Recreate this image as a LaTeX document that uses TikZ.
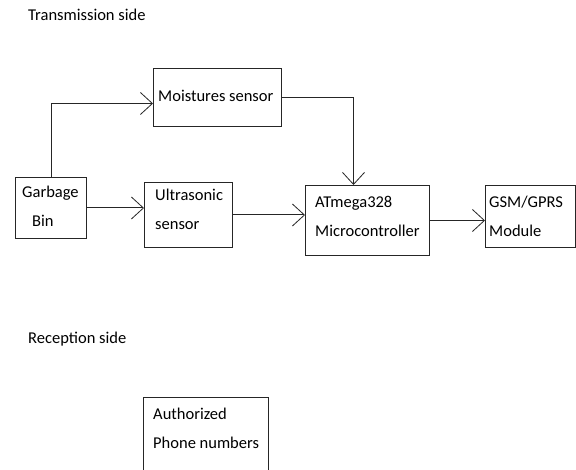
\documentclass[tikz,border=0pt]{standalone}
\usepackage{fontspec}
\setmainfont{Carlito}
\usetikzlibrary{arrows.meta}
\newcommand\txtlines[1]{\parbox[t]{140pt}{\raggedright #1}}
\begin{document}
\begin{tikzpicture}[x=1pt,y=-1pt,
  every node/.style={font=\fontsize{16.5}{29}\selectfont, text=black},
  blk/.style={draw=black!85, line width=1pt, rectangle, anchor=north west, inner sep=0pt},
  lbl/.style={anchor=base west, inner sep=0pt},
  conn/.style={draw=black!85, line width=1pt, -{Straight Barb[length=12pt,width=22pt,line width=0.8pt]}}]
\clip (0,0) rectangle (576,470);
\fill[white] (0,0) rectangle (576,470);
\node[lbl] (t1) at (28,21) {Transmission side};
\node[lbl] (t2) at (28,344) {Reception side};
% boxes
\node[blk, minimum width=128pt, minimum height=58pt] (moist) at (153,68) {};
\node[blk, minimum width=71pt, minimum height=61pt] (garbage) at (15,177) {};
\node[blk, minimum width=88pt, minimum height=65pt] (ultra) at (144,182) {};
\node[blk, minimum width=124pt, minimum height=70pt] (atm) at (305,185) {};
\node[blk, minimum width=90pt, minimum height=62pt] (gsm) at (485,185) {};
\node[blk, minimum width=125pt, minimum height=80pt] (auth) at (143,397) {};
% texts
\node[lbl] (moistT) at (158,102) {Moistures sensor};
\node[lbl] (garbageT) at (22,198) {\txtlines{Garbage\\\hspace*{10pt}Bin}};
\node[lbl] (ultraT) at (155,201) {\txtlines{Ultrasonic\\sensor}};
\node[lbl] (atmT) at (315,208) {\txtlines{ATmega328\\Microcontroller}};
\node[lbl] (gsmT) at (489,208) {\txtlines{GSM/GPRS\\Module}};
\node[lbl] (authT) at (153,420) {\txtlines{Authorized\\Phone numbers}};
% connectors
\draw[conn] (garbage.north) |- ([yshift=-6pt]moist.west);
\draw[conn] (moist.east) -| ([xshift=-14pt]atm.north);
\draw[conn] (garbage.east) -- (ultra.west |- garbage.east);
\draw[conn] (ultra.east) -- (atm.west |- ultra.east);
\draw[conn] (atm.east) -- (gsm.west |- atm.east);
\end{tikzpicture}
\end{document}
